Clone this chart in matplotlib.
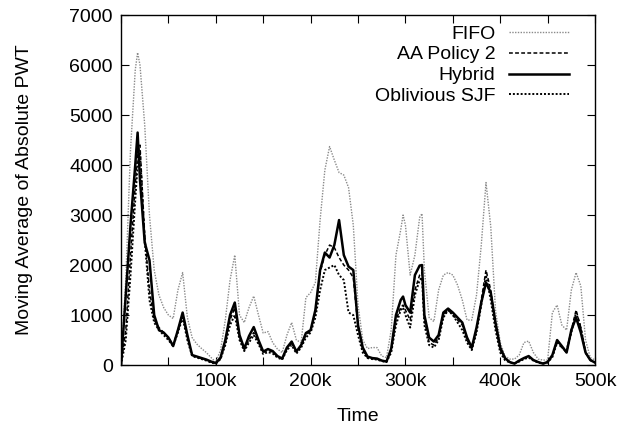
import numpy as np
import matplotlib
matplotlib.use("Agg")
import matplotlib.pyplot as plt

plt.rcParams['font.family'] = ['Liberation Sans', 'DejaVu Sans']

# time axis (thousands)
time_k = [0, 5, 10, 15, 17.5, 20, 25, 30, 35, 40, 45, 50, 55, 60, 65, 70, 75, 80, 85, 90,
          95, 100, 105, 110, 115, 120, 125, 130, 135, 140, 145, 150, 155, 160, 165, 170,
          175, 180, 185, 190, 195, 200, 205, 210, 215, 220, 225, 230, 235, 240, 245, 250,
          255, 260, 265, 270, 275, 280, 285, 290, 295, 297.5, 300, 305, 310, 315, 317.5,
          320, 325, 330, 335, 340, 345, 350, 355, 360, 365, 370, 375, 380, 385, 390, 395,
          400, 405, 410, 415, 420, 425, 430, 435, 440, 445, 450, 455, 460, 465, 470, 475,
          480, 485, 490, 495, 500]

fifo = [0, 1700, 4300, 5900, 6250, 6000, 4800, 3000, 1900, 1400, 1150, 1000, 930, 1500, 1850,
        950, 550, 420, 330, 250, 150, 60, 300, 900, 1700, 2200, 1000, 850, 1150, 1380, 1000,
        640, 670, 450, 320, 250, 600, 850, 500, 450, 1350, 1450, 1650, 2900, 3900, 4370,
        4100, 3850, 3800, 3550, 2800, 1200, 500, 330, 350, 350, 180, 150, 700, 2200, 2700,
        3000, 2800, 1800, 2200, 2950, 3030, 1900, 950, 870, 1500, 1800, 1850, 1800, 1600,
        1300, 900, 900, 1400, 2400, 3650, 2770, 1100, 450, 180, 120, 120, 200, 450, 480,
        250, 120, 100, 100, 1050, 1200, 800, 700, 1500, 1850, 1580, 500, 150, 100]

aa_policy2 = [0, 700, 2200, 3600, 4200, 4400, 2600, 1500, 900, 750, 650, 550, 400, 700, 1000,
              550, 200, 150, 130, 100, 60, 30, 130, 450, 900, 1150, 550, 300, 500, 650, 450,
              250, 300, 260, 170, 120, 330, 450, 260, 380, 600, 680, 1050, 1850, 2200, 2400,
              2350, 2150, 2000, 1900, 1750, 750, 300, 150, 130, 120, 90, 70, 300, 900, 1150,
              1200, 1100, 900, 1500, 1800, 1850, 900, 450, 400, 550, 1000, 1100, 1000, 900,
              800, 500, 320, 700, 1300, 1900, 1500, 800, 300, 130, 60, 30, 80, 130, 170, 100,
              60, 30, 60, 180, 480, 350, 250, 700, 1100, 750, 250, 100, 50]

hybrid = [0, 1400, 2800, 4000, 4650, 3700, 2450, 2100, 1000, 700, 650, 550, 380, 700, 1050,
          600, 200, 170, 140, 110, 70, 40, 150, 500, 1000, 1250, 600, 330, 580, 760, 500,
          270, 320, 280, 180, 130, 350, 470, 270, 400, 640, 700, 1100, 1900, 2250, 2150,
          2400, 2900, 2200, 1970, 1900, 800, 350, 170, 140, 130, 90, 70, 330, 1000, 1300,
          1370, 1200, 1050, 1800, 1990, 2000, 1000, 550, 470, 600, 1050, 1130, 1050, 950,
          850, 550, 350, 750, 1250, 1650, 1450, 850, 350, 140, 60, 30, 90, 140, 180, 100,
          60, 30, 60, 200, 500, 380, 250, 700, 950, 650, 250, 100, 50]

oblivious_sjf = [0, 500, 1800, 3300, 4000, 4250, 2500, 1300, 850, 700, 600, 500, 380, 650, 950,
                 500, 180, 150, 120, 90, 50, 30, 120, 400, 800, 1000, 500, 280, 450, 600, 420,
                 220, 260, 230, 150, 110, 300, 400, 230, 350, 550, 650, 950, 1500, 1900, 1950,
                 2000, 1800, 1700, 1050, 1000, 600, 250, 140, 120, 110, 80, 60, 250, 800, 1100,
                 1150, 1000, 750, 1400, 1700, 1750, 800, 400, 350, 500, 950, 1100, 1000, 850,
                 700, 450, 300, 650, 1200, 1800, 1300, 700, 250, 100, 50, 30, 70, 120, 150, 90,
                 50, 30, 50, 160, 450, 350, 300, 650, 1050, 750, 250, 100, 50]

t = np.array(time_k) * 1000

fig = plt.figure(figsize=(6.29, 4.30), dpi=100)
ax = fig.add_axes([0.1924, 0.151, 0.7536, 0.814])

ax.plot(t, fifo, color='#8a8a8a', linestyle=(0, (1, 1)), linewidth=1.0, label='FIFO')
ax.plot(t, aa_policy2, color='black', linestyle=(0, (2.5, 1.5)), linewidth=1.1, label='AA Policy 2')
ax.plot(t, hybrid, color='black', linestyle='-', linewidth=1.8, label='Hybrid')
ax.plot(t, oblivious_sjf, color='black', linestyle=(0, (1, 1)), linewidth=1.4, label='Oblivious SJF')

ax.set_xlim(0, 500000)
ax.set_ylim(0, 7000)

xt = np.arange(0, 500001, 50000)
ax.set_xticks(xt)
ax.set_xticklabels(['' if (v % 100000 or v == 0) else '%dk' % (v // 1000) for v in xt])
ax.set_yticks(np.arange(0, 7001, 1000))
ax.tick_params(direction='in', length=6, width=0.8, top=True, right=True, labelsize=14, pad=6)

for s in ax.spines.values():
    s.set_linewidth(1.0)

ax.set_xlabel('Time', fontsize=14, labelpad=13)
ax.set_ylabel('Moving Average of Absolute PWT', fontsize=14, labelpad=26)

leg = ax.legend(loc='upper right', frameon=False, markerfirst=False, fontsize=14,
                handlelength=3.1, handletextpad=0.7, labelspacing=0.17,
                borderaxespad=0.0, bbox_to_anchor=(0.962, 0.994))

fig.savefig('out.png', dpi=100)
